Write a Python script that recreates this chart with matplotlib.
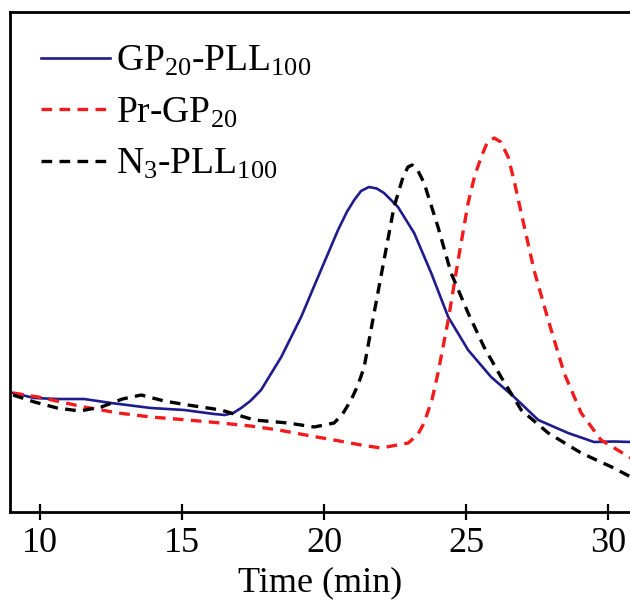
import numpy as np
import matplotlib
matplotlib.use('Agg')
import matplotlib.pyplot as plt

plt.rcParams['font.family'] = ['Liberation Serif', 'DejaVu Serif']
plt.rcParams['mathtext.fontset'] = 'custom'
plt.rcParams['mathtext.rm'] = 'Liberation Serif'
plt.rcParams['mathtext.it'] = 'Liberation Serif:italic'

# GPC traces (elution time in min, normalised RI signal)
t_gp_pll = [9.05, 9.8, 10.6, 11.55, 12.5, 13.9, 15.07, 16.13, 16.5, 16.8, 17.08, 17.4,
            17.78, 18.49, 19.19, 19.89, 20.49, 20.8, 21.06, 21.3, 21.58, 21.85, 22.11,
            22.6, 23.17, 23.77, 24.37, 25.07, 25.88, 26.69, 27.54, 28.59, 29.2, 29.5,
            30.2, 30.8]
y_gp_pll = [0.238, 0.228, 0.226, 0.226, 0.218, 0.208, 0.204, 0.196, 0.194, 0.198, 0.208,
            0.222, 0.244, 0.31, 0.39, 0.484, 0.564, 0.6, 0.624, 0.642, 0.65, 0.647, 0.638,
            0.61, 0.558, 0.478, 0.39, 0.324, 0.27, 0.23, 0.184, 0.158, 0.146, 0.14,
            0.141, 0.14]

t_pr_gp = [9.05, 9.93, 11.55, 12.75, 13.9, 15.2, 16.37, 17.4, 18.4, 19.54, 20.35, 21.3,
           22.0, 22.96, 23.3, 23.52, 23.8, 24.01, 24.37, 24.72, 25.07, 25.3, 25.53,
           25.75, 25.99, 26.22, 26.48, 26.7, 26.94, 27.39, 27.89, 28.45, 29.05, 29.75,
           30.8]
y_pr_gp = [0.238, 0.23, 0.21, 0.198, 0.19, 0.184, 0.178, 0.172, 0.164, 0.152, 0.144, 0.134,
           0.128, 0.138, 0.155, 0.178, 0.225, 0.278, 0.384, 0.504, 0.618, 0.672, 0.71,
           0.74, 0.748, 0.74, 0.71, 0.66, 0.598, 0.484, 0.384, 0.278, 0.198, 0.144,
           0.108]

t_n3_pll = [9.05, 9.8, 10.6, 11.4, 12.15, 12.9, 13.56, 14.37, 15.2, 16.37, 17.54, 18.73,
            19.65, 20.35, 20.65, 20.95, 21.2, 21.41, 21.76, 22.11, 22.46, 22.78, 22.95,
            23.1, 23.3, 23.52, 24.01, 24.47, 25.07, 25.63, 26.23, 26.94, 27.89, 29.05,
            30.2, 30.8]
y_n3_pll = [0.234, 0.22, 0.208, 0.202, 0.21, 0.226, 0.234, 0.222, 0.214, 0.204, 0.184,
            0.178, 0.17, 0.178, 0.196, 0.224, 0.255, 0.29, 0.398, 0.504, 0.61, 0.67, 0.69,
            0.694, 0.683, 0.658, 0.57, 0.478, 0.398, 0.33, 0.27, 0.204, 0.158, 0.118,
            0.088, 0.07]

labels = ['GP$_{20}$-PLL$_{100}$', 'Pr-GP$_{20}$', 'N$_{3}$-PLL$_{100}$']
xticks = [10, 15, 20, 25, 30]

fig = plt.figure(figsize=(6.3, 6.1), dpi=100)
ax = fig.add_axes([10/630, 98/610, 620/630, 500/610])

ax.plot(t_gp_pll, y_gp_pll, color='#1e1b8c', lw=1.9, solid_joinstyle='round', label=labels[0])
ax.plot(t_pr_gp, y_pr_gp, color='#f21a1a', lw=2.4, ls=(0, (3.2, 2.2)),
        dash_joinstyle='round', label=labels[1])
ax.plot(t_n3_pll, y_n3_pll, color='black', lw=2.4, ls=(0, (3.2, 2.2)),
        dash_joinstyle='round', label=labels[2])

ax.set_xlim(8.94, 30.77)
ax.set_ylim(0, 1)
ax.set_xticks(xticks)
ax.set_yticks([])
ax.spines['right'].set_visible(False)
for s in ['left', 'top', 'bottom']:
    ax.spines[s].set_linewidth(2.0)
ax.tick_params(axis='x', direction='inout', length=11, width=1.6, labelsize=26, pad=5)
ax.set_xlabel('Time (min)', fontsize=26, labelpad=5)

leg = ax.legend(loc='upper left', frameon=False, fontsize=27, handlelength=1.85,
                handletextpad=0.15, labelspacing=0.45, borderaxespad=0.0,
                bbox_to_anchor=(0.025, 0.965))

fig.savefig('out.png', dpi=100)
